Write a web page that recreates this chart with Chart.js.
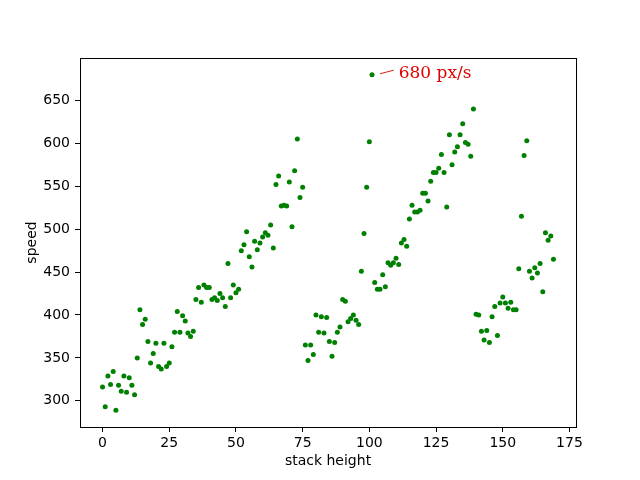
<!DOCTYPE html>
<html>
<head>
<meta charset="utf-8">
<script src="https://cdn.jsdelivr.net/npm/chart.js@4/dist/chart.umd.min.js"></script>
<style>
  body { margin: 0; background: #fff; }
</style>
</head>
<body>
<canvas id="chart" width="640" height="480"></canvas>
<script>
// stack height vs speed scatter

var stackHeight = [
  0, 1, 2, 3, 4, 5, 6, 7, 8, 9, 10, 11, 12, 13, 14, 15, 16, 17, 18, 19,
  20, 21, 22, 23, 24, 25, 26, 27, 28, 29, 30, 31, 32, 33, 34, 35, 36, 37, 38, 39,
  40, 41, 42, 43, 44, 45, 46, 47, 48, 49, 50, 51, 52, 53, 54, 55, 56, 57, 58, 59,
  60, 61, 62, 63, 64, 65, 66, 67, 68, 69, 70, 71, 72, 73, 74, 75, 76, 77, 78, 79,
  80, 81, 82, 83, 84, 85, 86, 87, 88, 89, 90, 91, 92, 93, 94, 95, 96, 97, 98, 99,
  100, 101, 102, 103, 104, 105, 106, 107, 108, 109, 110, 111, 112, 113, 114, 115, 116, 117, 118, 119,
  120, 121, 122, 123, 124, 125, 126, 127, 128, 129, 130, 131, 132, 133, 134, 135, 136, 137, 138, 139,
  140, 141, 142, 143, 144, 145, 146, 147, 148, 149, 150, 151, 152, 153, 154, 155, 156, 157, 158, 159,
  160, 161, 162, 163, 164, 165, 166, 167, 168, 169
];

var speed = [
  316, 293, 329, 319, 334, 289, 318, 311, 329, 310, 327, 318, 307, 350, 406, 389, 395, 369, 344, 355,
  367, 340, 337, 367, 340, 344, 363, 380, 404, 380, 399, 393, 379, 375, 381, 418, 432, 415, 435, 432,
  432, 418, 420, 417, 425, 420, 410, 460, 420, 435, 426, 430, 475, 482, 497, 468, 456, 486, 476, 484,
  491, 496, 493, 505, 478, 552, 562, 527, 528, 527, 555, 503, 568, 605, 537, 549, 365, 347, 365, 354,
  400, 380, 398, 379, 397, 369, 352, 368, 380, 386, 418, 416, 392, 396, 400, 394, 389, 451, 495, 549,
  602, 680, 438, 430, 430, 447, 433, 461, 458, 461, 466, 459, 484, 488, 480, 512, 528, 520, 520, 522,
  542, 542, 533, 556, 566, 566, 571, 587, 566, 526, 610, 575, 590, 596, 610, 623, 601, 599, 585, 640,
  401, 400, 381, 371, 382, 368, 398, 410, 376, 414, 421, 414, 408, 415, 406, 406, 454, 515, 586, 603,
  451, 443, 455, 449, 460, 427, 496, 487, 492, 465
];

var xTicks = [0, 25, 50, 75, 100, 125, 150, 175];
var yTicks = [300, 350, 400, 450, 500, 550, 600, 650];

// annotation: target point, text position, label
var notePoint = [101, 680];
var noteText = [111, 683];
var noteLabel = '680 px/s';

var points = stackHeight.map(function (x, i) { return { x: x, y: speed[i] }; });

var tickFont = { family: 'DejaVu Sans', size: 14 };

var framePlugin = {
  id: 'frame',
  afterDraw: function (chart) {
    var c = chart.ctx, a = chart.chartArea;
    c.save();
    c.strokeStyle = '#000';
    c.lineWidth = 1;
    c.strokeRect(Math.round(a.left) + 0.5, Math.round(a.top) + 0.5,
      Math.round(a.right - a.left), Math.round(a.bottom - a.top));

    // annotation
    var xs = chart.scales.x, ys = chart.scales.y;
    var px = xs.getPixelForValue(notePoint[0]), py = ys.getPixelForValue(notePoint[1]);
    var tx = xs.getPixelForValue(noteText[0]), ty = ys.getPixelForValue(noteText[1]);
    c.strokeStyle = '#d62020';
    c.lineWidth = 1;
    c.beginPath();
    c.moveTo(px + 8, py - 1);
    c.lineTo(tx - 5, ty - 2);
    c.stroke();
    c.fillStyle = '#e00000';
    c.font = '17px "DejaVu Serif"';
    c.textAlign = 'left';
    c.textBaseline = 'middle';
    c.fillText(noteLabel, tx, ty + 1);
    c.restore();
  }
};

var ctx = document.getElementById('chart').getContext('2d');
var chart = new Chart(ctx, {
  type: 'scatter',
  data: {
    datasets: [{
      data: points,
      backgroundColor: '#008000',
      borderWidth: 0,
      pointRadius: 2.5,
      pointHoverRadius: 2.5
    }]
  },
  options: {
    responsive: false,
    animation: false,
    devicePixelRatio: 1,
    layout: { padding: { left: 0, right: 64, top: 58, bottom: 0 } },
    plugins: {
      legend: { display: false },
      tooltip: { enabled: false }
    },
    scales: {
      x: {
        type: 'linear',
        min: -8.45,
        max: 177.45,
        afterBuildTicks: function (scale) {
          scale.ticks = xTicks.map(function (v) { return { value: v }; });
        },
        afterFit: function (scale) { scale.height = 53; },
        border: { display: false },
        grid: { display: true, drawOnChartArea: false, drawTicks: true, tickLength: 5, color: '#000' },
        ticks: { color: '#000', font: tickFont, padding: 3, maxRotation: 0 },
        title: { display: true, text: 'stack height', color: '#000', font: tickFont, padding: { top: 0, bottom: 10 } }
      },
      y: {
        type: 'linear',
        min: 269.45,
        max: 699.55,
        afterBuildTicks: function (scale) {
          scale.ticks = yTicks.map(function (v) { return { value: v }; });
        },
        afterFit: function (scale) { scale.width = 80; },
        border: { display: false },
        grid: { display: true, drawOnChartArea: false, drawTicks: true, tickLength: 5, color: '#000' },
        ticks: { color: '#000', font: tickFont, padding: 5 },
        title: { display: true, text: 'speed', color: '#000', font: tickFont, padding: { top: 24, bottom: 0 } }
      }
    }
  },
  plugins: [framePlugin]
});
</script>
</body>
</html>
